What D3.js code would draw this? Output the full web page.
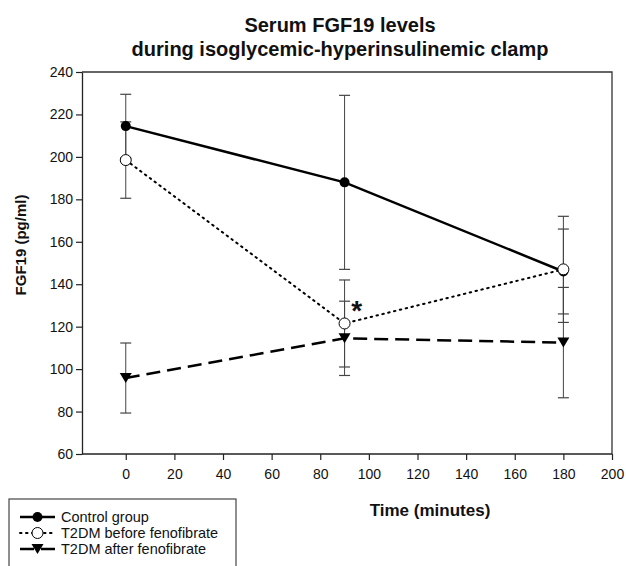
<!DOCTYPE html>
<html>
<head>
  <meta charset="utf-8">
  <script src="https://cdnjs.cloudflare.com/ajax/libs/d3/7.8.5/d3.min.js"></script>
  <style>
    body, html {
      margin: 0;
      padding: 0;
      background: white;
      overflow: hidden;
    }
    svg text {
      font-family: 'Liberation Sans', Arial, sans-serif;
      fill: #111;
    }
  </style>
</head>
<body>
  <svg id="chart" width="626" height="566"></svg>
  <script>
    // values
    const times = [0, 90, 180];
    const xTicks = [0, 20, 40, 60, 80, 100, 120, 140, 160, 180, 200];
    const yTicks = [60, 80, 100, 120, 140, 160, 180, 200, 220, 240];

    const controlMean = [214.5, 188, 146];
    const controlErr = [15, 41, 20];
    const beforeMean = [198.5, 121.5, 147];
    const beforeErr = [18, 20.5, 25];
    const afterMean = [95.8, 114.5, 112.5];
    const afterErr = [16.5, 17.5, 26];

    const seriesNames = ["Control group", "T2DM before fenofibrate", "T2DM after fenofibrate"];

    const series = [
      { name: seriesNames[0], mean: controlMean, err: controlErr, dash: null, marker: "dot", lw: 2.5 },
      { name: seriesNames[1], mean: beforeMean, err: beforeErr, dash: "1.5,4.5", marker: "open", lw: 2 },
      { name: seriesNames[2], mean: afterMean, err: afterErr, dash: "14,7", marker: "tri", lw: 2.5 }
    ];

    const svg = d3.select('#chart');
    const plotL = 82, plotR = 612, plotT = 72, plotB = 454;

    const x = d3.scaleLinear().domain([-18, 200]).range([plotL, plotR]);
    const y = d3.scaleLinear().domain([60, 240]).range([plotB, plotT]);

    // title
    const titleX = 340;
    svg.append('text').attr('x', titleX).attr('y', 32)
      .attr('text-anchor', 'middle').style('font-size', '20px').style('font-weight', 'bold')
      .text('Serum FGF19 levels');
    svg.append('text').attr('x', titleX).attr('y', 56)
      .attr('text-anchor', 'middle').style('font-size', '20px').style('font-weight', 'bold')
      .text('during isoglycemic-hyperinsulinemic clamp');

    // frame
    svg.append('path')
      .attr('d', `M ${plotL} ${plotT} L ${plotR} ${plotT} L ${plotR} ${plotB}`)
      .attr('fill', 'none').attr('stroke', '#333').attr('stroke-width', 1.3);

    const xAxis = svg.append('g').attr('transform', `translate(0,${plotB})`)
      .call(d3.axisBottom(x).tickValues(xTicks).tickSize(6).tickSizeOuter(0));
    const yAxis = svg.append('g').attr('transform', `translate(${plotL},0)`)
      .call(d3.axisLeft(y).tickValues(yTicks).tickSize(6).tickSizeOuter(0));

    [xAxis, yAxis].forEach(a => {
      a.select('.domain').attr('stroke', '#222').attr('stroke-width', 1.3);
      a.selectAll('.tick line').attr('stroke', '#222').attr('stroke-width', 1.2);
      a.selectAll('.tick text').style('font-size', '14px').attr('fill', '#111')
        .style('font-family', "'Liberation Sans', Arial, sans-serif");
    });
    xAxis.selectAll('.tick text').attr('dy', '1.15em');
    xAxis.select('.domain').attr('d', `M${plotL},0H${plotR}`);

    // axis titles
    svg.append('text').attr('x', 430).attr('y', 516)
      .attr('text-anchor', 'middle').style('font-size', '17px').style('font-weight', 'bold')
      .text('Time (minutes)');
    svg.append('text')
      .attr('transform', `translate(26,245) rotate(-90)`)
      .attr('text-anchor', 'middle').style('font-size', '15px').style('font-weight', 'bold')
      .text('FGF19 (pg/ml)');

    // error bars
    series.forEach(s => {
      const g = svg.append('g');
      times.forEach((t, i) => {
        const cx = x(t);
        const y1 = y(s.mean[i] + s.err[i]);
        const y2 = y(s.mean[i] - s.err[i]);
        g.append('line').attr('x1', cx).attr('x2', cx).attr('y1', y1).attr('y2', y2)
          .attr('stroke', '#444').attr('stroke-width', 1);
        [y1, y2].forEach(yy => {
          g.append('line').attr('x1', cx - 5.5).attr('x2', cx + 5.5).attr('y1', yy).attr('y2', yy)
            .attr('stroke', '#444').attr('stroke-width', 1.2);
        });
      });
    });

    const line = d3.line().x((d, i) => x(times[i])).y(d => y(d));

    function drawMarker(g, type, cx, cy) {
      if (type === 'dot') {
        g.append('circle').attr('cx', cx).attr('cy', cy).attr('r', 5).attr('fill', '#000');
      } else if (type === 'open') {
        g.append('circle').attr('cx', cx).attr('cy', cy).attr('r', 5.5)
          .attr('fill', 'white').attr('stroke', '#000').attr('stroke-width', 1);
      } else {
        g.append('path').attr('d', `M ${cx - 6} ${cy - 5} L ${cx + 6} ${cy - 5} L ${cx} ${cy + 5} Z`)
          .attr('fill', '#000');
      }
    }

    // lines then markers
    series.forEach(s => {
      svg.append('path').datum(s.mean).attr('d', line)
        .attr('fill', 'none').attr('stroke', '#000').attr('stroke-width', s.lw)
        .attr('stroke-dasharray', s.dash)
        .attr('stroke-linecap', s.marker === 'open' ? 'round' : 'butt');
    });
    series.forEach(s => {
      const g = svg.append('g');
      times.forEach((t, i) => drawMarker(g, s.marker, x(t), y(s.mean[i])));
    });

    // significance mark
    svg.append('text').attr('x', x(95)).attr('y', y(123))
      .attr('text-anchor', 'middle').style('font-size', '28px').style('font-weight', 'bold')
      .text('*');

    // legend
    const legend = svg.append('g');
    legend.append('rect').attr('x', 9).attr('y', 499).attr('width', 227).attr('height', 80)
      .attr('fill', 'white').attr('stroke', '#444').attr('stroke-width', 1.2);
    series.forEach((s, i) => {
      const ly = 517 + i * 16;
      legend.append('line').attr('x1', 20).attr('x2', 55).attr('y1', ly).attr('y2', ly)
        .attr('stroke', '#000').attr('stroke-width', s.lw)
        .attr('stroke-dasharray', s.dash)
        .attr('stroke-linecap', s.marker === 'open' ? 'round' : 'butt');
      drawMarker(legend, s.marker, 37.5, ly);
      legend.append('text').attr('x', 61).attr('y', ly).attr('dy', '0.35em')
        .style('font-size', '14.5px').text(s.name);
    });
  </script>
</body>
</html>
